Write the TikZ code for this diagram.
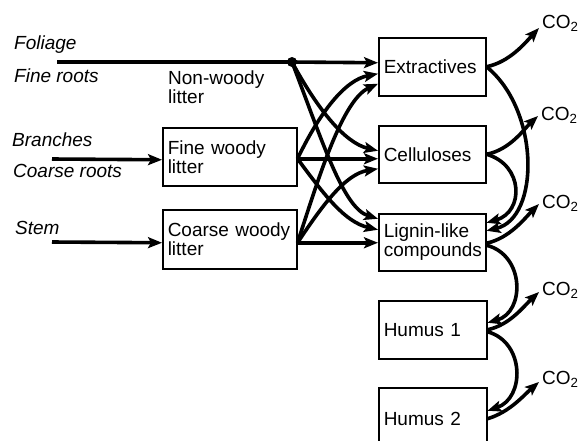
\documentclass[tikz,border=0pt]{standalone}
\usepackage{fontspec}
\setmainfont{Liberation Sans}
\usetikzlibrary{arrows.meta}
\tikzset{
  pool/.style={draw, line width=1.5pt, rectangle, anchor=north west,
    inner xsep=5pt, inner ysep=0pt, align=left},
  cflow/.style={line width=3.6pt, -{Stealth[length=14pt,width=11pt,inset=3pt]}},
  feed/.style={line width=3.6pt},
  lbl/.style={anchor=base west, inner sep=0pt, font=\fontsize{19}{19}\selectfont\itshape},
  gas/.style={anchor=base west, inner sep=0pt},
}
\begin{document}
\begin{tikzpicture}[x=1pt,y=-1pt, font=\fontsize{19}{19}\selectfont]
\useasboundingbox (0,0) rectangle (582,440);

% litter pools
\node[pool, text width=124pt, minimum height=58pt] (fwl) at (162,127) {Fine woody\\litter};
\node[pool, text width=124pt, minimum height=59pt] (cwl) at (162,209) {Coarse woody\\litter};

% soil carbon pools
\node[pool, text width=97pt, minimum height=58pt] (ext) at (378,37) {Extractives};
\node[pool, text width=97pt, minimum height=57pt] (cel) at (378,125) {Celluloses};
\node[pool, text width=97pt, minimum height=57pt] (lig) at (378,213) {Lignin-like\\compounds};
\node[pool, text width=98pt, minimum height=58pt] (hum1) at (378,300) {Humus 1};
\node[pool, text width=98pt, minimum height=62pt] (hum2) at (378,387) {Humus 2};

% input labels
\node[lbl] (lfol) at (14,49) {Foliage};
\node[lbl] (lfro) at (14,82) {Fine roots};
\node[lbl] (lbra) at (12,146) {Branches};
\node[lbl] (lcro) at (13,177) {Coarse roots};
\node[lbl] (lstm) at (15,234) {Stem};
\node[anchor=north west, inner sep=0pt, align=left] (lnw) at (168,71) {Non-woody\\litter};

% CO2 outlets
\node[gas] (g1) at (542,28) {CO\textsubscript{2}};
\node[gas] (g2) at (541,120) {CO\textsubscript{2}};
\node[gas] (g3) at (542,208) {CO\textsubscript{2}};
\node[gas] (g4) at (542,295) {CO\textsubscript{2}};
\node[gas] (g5) at (542,384) {CO\textsubscript{2}};

% junction of the non-woody litter line
\node[circle, fill, inner sep=0pt, minimum size=10pt] (junc) at (292,62) {};

% source ends of the input lines
\coordinate (sfol) at (57,62);
\coordinate (sbra) at (52,159);
\coordinate (sstm) at (52,242);

% outlets of the woody litter pools
\coordinate (fout) at ([yshift=-2pt]fwl.east);
\coordinate (cout) at ([yshift=-3.5pt]cwl.east);

% inputs
\draw[feed] (sfol) -- (junc.center);
\draw[cflow] (sbra) -- ([yshift=-3pt]fwl.west);
\draw[cflow] (sstm) -- ([yshift=-3.5pt]cwl.west);

% non-woody litter to the soil pools
\draw[cflow] (junc.center) -- ([yshift=4pt]ext.west);
\draw[cflow] (junc.center) .. controls (318,110) and (345,143) .. ([yshift=3.5pt]cel.west);
\draw[cflow] (junc.center) .. controls (322,140) and (343,208) .. ([yshift=23.5pt]lig.west);

% fine woody litter to the soil pools
\draw[cflow] (fout) .. controls (320,112) and (345,80) .. ([yshift=-7pt]ext.west);
\draw[cflow] (fout) -- ([yshift=-4.5pt]cel.west);
\draw[cflow] (fout) .. controls (325,196) and (345,222) .. ([yshift=12.5pt]lig.west);

% coarse woody litter to the soil pools
\draw[cflow] (cout) .. controls (318,180) and (342,100) .. ([yshift=-17pt]ext.west);
\draw[cflow] (cout) .. controls (322,206) and (345,174) .. ([yshift=-14.5pt]cel.west);
\draw[cflow] (cout) -- (lig.west |- cout);

% respiration and transfers on the right
\draw[cflow] (ext.east) .. controls (510,62) and (526,42) .. ([xshift=-3pt]g1.base west);
\draw[cflow] (ext.east) .. controls (540,110) and (540,218) .. ([yshift=11.5pt]lig.east);
\draw[cflow] (cel.east) .. controls (510,150) and (525,128) .. ([xshift=-3pt,yshift=4pt]g2.base west);
\draw[cflow] (cel.east) .. controls (524,165) and (524,212) .. ([yshift=19.5pt]lig.east);
\draw[cflow] ([yshift=-1pt]lig.east) .. controls (510,238) and (525,218) .. ([xshift=-3pt,yshift=4pt]g3.base west);
\draw[cflow] ([yshift=-3pt]lig.east) .. controls (525,255) and (525,312) .. ([yshift=7pt]hum1.east);
\draw[cflow] (hum1.east) .. controls (510,325) and (524,306) .. ([xshift=-3pt,yshift=3pt]g4.base west);
\draw[cflow] ([yshift=-2pt]hum1.east) .. controls (525,342) and (525,398) .. ([yshift=8pt]hum2.east);
\draw[cflow] (hum2.east) .. controls (510,412) and (524,395) .. ([xshift=-3pt,yshift=2pt]g5.base west);
\end{tikzpicture}
\end{document}
